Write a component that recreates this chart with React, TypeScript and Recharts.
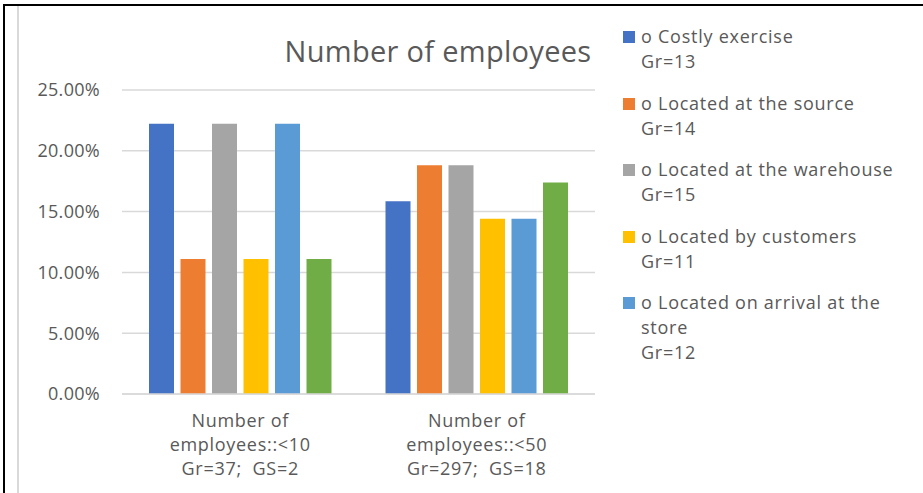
import React from 'react';
import { BarChart, Bar, XAxis, YAxis, CartesianGrid, Legend } from 'recharts';

const categories = ['Number of employees::<10 Gr=37;  GS=2', 'Number of employees::<50 Gr=297;  GS=18'];
const categoryLines = [
  ['Number of', 'employees::<10', 'Gr=37;  GS=2'],
  ['Number of', 'employees::<50', 'Gr=297;  GS=18'],
];
const costlyExercise = [22.22, 15.85];
const locatedAtSource = [11.11, 18.82];
const locatedAtWarehouse = [22.22, 18.82];
const locatedByCustomers = [11.11, 14.42];
const locatedOnArrival = [22.22, 14.42];
const sixthSeries = [11.11, 17.39];
const yTicks = [0, 5, 10, 15, 20, 25];

const seriesKeys = ['s1', 's2', 's3', 's4', 's5', 's6'];
const seriesValues = [costlyExercise, locatedAtSource, locatedAtWarehouse, locatedByCustomers, locatedOnArrival, sixthSeries];
const seriesColors = ['#4472C4', '#ED7D31', '#A5A5A5', '#FFC000', '#5B9BD5', '#70AD47'];
const legendLines: string[][] = [
  ['o Costly exercise', 'Gr=13'],
  ['o Located at the source', 'Gr=14'],
  ['o Located at the warehouse', 'Gr=15'],
  ['o Located by customers', 'Gr=11'],
  ['o Located on arrival at the', 'store', 'Gr=12'],
];
const title = 'Number of employees';

const data = categories.map((c, i) => {
  const row: any = { category: c, idx: i };
  seriesKeys.forEach((k, j) => (row[k] = seriesValues[j][i]));
  return row;
});

const FONT = '"Open Sans", sans-serif';
const TEXT = '#595959';

const XTick = (props: any) => {
  const { x, y, payload } = props;
  const idx = categories.indexOf(payload.value);
  const lines = categoryLines[idx] || [payload.value];
  return (
    <g>
      {lines.map((l, i) => (
        <text key={i} x={x} y={y + 32.5 + i * 24.3} textAnchor="middle" fill={TEXT}
          style={{ fontFamily: FONT, fontSize: 18, whiteSpace: 'pre', letterSpacing: 0.7 }}>
          {l}
        </text>
      ))}
    </g>
  );
};

const LegendContent = (props: any) => {
  const { payload } = props;
  const items = (payload || []).filter((p: any) => {
    const idx = seriesKeys.indexOf(p.dataKey);
    return p.type !== 'none' && idx >= 0 && idx < legendLines.length;
  });
  return (
    <div style={{ fontFamily: FONT, fontSize: 18, color: TEXT, letterSpacing: 0.75 }}>
      {items.map((p: any, i: number) => {
        const idx = seriesKeys.indexOf(p.dataKey);
        const lines = legendLines[idx] || [];
        return (
          <div key={i} style={{ position: 'relative', marginBottom: 16.5 }}>
            <div style={{ position: 'absolute', left: 0, top: 7, width: 12, height: 12, background: p.color }} />
            {lines.map((l, j) => (
              <div key={j} style={{ marginLeft: 18, lineHeight: '25px', height: 25, whiteSpace: 'nowrap' }}>{l}</div>
            ))}
          </div>
        );
      })}
    </div>
  );
};

export default function App() {
  return (
    <div style={{ position: 'absolute', left: 0, top: 0, width: 923, height: 493, background: '#fff', overflow: 'hidden' }}>
      <div style={{ position: 'absolute', left: 3, top: 4, width: 923, height: 2, background: '#000' }} />
      <div style={{ position: 'absolute', left: 3, top: 4, width: 2, height: 493, background: '#000' }} />
      <div style={{ position: 'absolute', left: 17, top: 6, width: 2, height: 493, background: '#d9d9d9' }} />
      <div style={{ position: 'absolute', left: 0, top: 0 }}>
        <BarChart width={923} height={493} data={data}
          margin={{ top: 90, right: 328, bottom: 9, left: 12 }}
          barSize={25} barGap={6.5}>
          <CartesianGrid vertical={false} stroke="#d9d9d9" strokeWidth={1.5} />
          <XAxis dataKey="category" height={90} tick={<XTick />} tickLine={false}
            axisLine={{ stroke: '#d9d9d9', strokeWidth: 1.5 }} tickSize={0} tickMargin={0} interval={0} />
          <YAxis width={110} domain={[0, 25]} ticks={yTicks} axisLine={false} tickLine={false}
            tickSize={0} tickMargin={22} tickFormatter={(v: number) => v.toFixed(2) + '%'}
            tick={{ fill: TEXT, fontSize: 18, fontFamily: FONT, letterSpacing: 0.3 }} />
          <Legend layout="horizontal" align="center" verticalAlign="middle"
            wrapperStyle={{ left: 623, top: 24, width: 300 }} content={<LegendContent />} />
          {seriesKeys.map((k, j) => (
            <Bar key={k} dataKey={k} fill={seriesColors[j]} isAnimationActive={false}
              legendType={j < legendLines.length ? 'square' : 'none'} />
          ))}
        </BarChart>
      </div>
      <div style={{ position: 'absolute', left: 238, width: 400, top: 31, textAlign: 'center', fontFamily: FONT, fontSize: 29, color: TEXT, lineHeight: '40px', whiteSpace: 'nowrap', letterSpacing: 0.3 }}>
        {title}
      </div>
    </div>
  );
}
